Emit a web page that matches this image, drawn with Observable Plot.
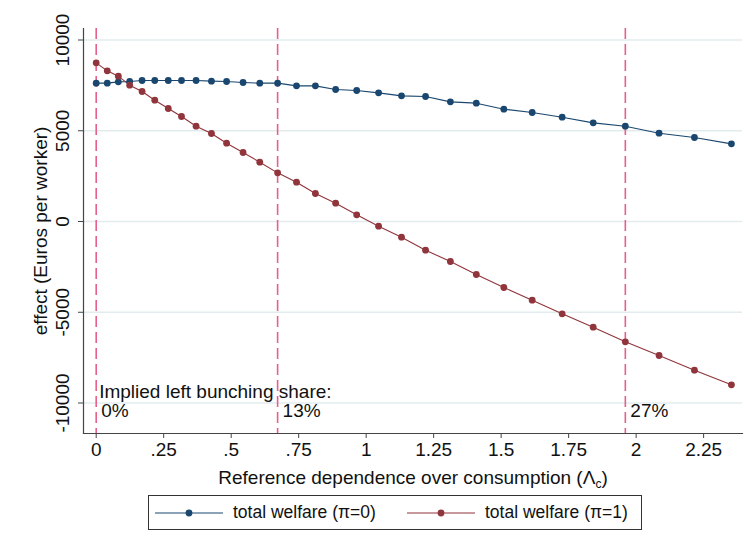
<!DOCTYPE html>
<html>
<head>
<meta charset="utf-8">
<script src="https://cdn.jsdelivr.net/npm/d3@7"></script>
<script src="https://cdn.jsdelivr.net/npm/@observablehq/plot@0.6"></script>
<style>
  body { margin: 0; background: #fff; font-family: "Liberation Sans", Arial, sans-serif; }
  #chart { width: 745px; }
  .legend { position: absolute; left: 148px; top: 495px; width: 494px; height: 35px; border: 1px solid #333; box-sizing: border-box; font-size: 17.5px; color: #111; }
  .legend .item { position: absolute; top: 0; height: 33px; display: flex; align-items: center; }
  .legend svg { margin-right: 10px; }
</style>
</head>
<body>
<div id="chart"></div>
<div class="legend" id="legend"></div>
<script>
// Reference dependence over consumption (x)
const lambdaC = [0, 0.041, 0.082, 0.124, 0.170, 0.217, 0.267, 0.316, 0.370, 0.427, 0.483, 0.544, 0.606, 0.672, 0.742, 0.812, 0.887, 0.965, 1.046, 1.131, 1.220, 1.312, 1.408, 1.510, 1.615, 1.726, 1.841, 1.960, 2.085, 2.216, 2.353];
// total welfare (pi=0)
const welfarePi0 = [7622, 7622, 7695, 7713, 7769, 7769, 7769, 7769, 7769, 7732, 7713, 7658, 7622, 7622, 7475, 7475, 7273, 7218, 7089, 6924, 6887, 6593, 6520, 6189, 6006, 5748, 5436, 5252, 4867, 4628, 4279];
// total welfare (pi=1)
const welfarePi1 = [8742, 8301, 8007, 7511, 7163, 6685, 6226, 5785, 5252, 4848, 4316, 3802, 3269, 2681, 2167, 1543, 1010, 367, -257, -863, -1580, -2204, -2920, -3636, -4334, -5087, -5822, -6630, -7383, -8191, -8999];
const seriesNames = ["total welfare (\u03c0=0)", "total welfare (\u03c0=1)"];
const seriesColors = ["#1a476f", "#90353b"];

const bunchX = [0, 0.672, 1.960];
const bunchLabels = ["0%", "13%", "27%"];
const bunchHeader = "Implied left bunching share:";

const xTicks = [0, 0.25, 0.5, 0.75, 1, 1.25, 1.5, 1.75, 2, 2.25];
const xTickLabels = ["0", ".25", ".5", ".75", "1", "1.25", "1.5", "1.75", "2", "2.25"];
const yTicks = [-10000, -5000, 0, 5000, 10000];
const yTickLabels = ["-10000", "-5000", "0", "5000", "10000"];

const xTitleMain = "Reference dependence over consumption (\u039b";
const xTitleSub = "c";
const xTitleEnd = ")";
const yTitle = "effect (Euros per worker)";

const data = [];
lambdaC.forEach((x, i) => {
  data.push({x, y: welfarePi0[i], s: seriesNames[0]});
});
lambdaC.forEach((x, i) => {
  data.push({x, y: welfarePi1[i], s: seriesNames[1]});
});

const plot = Plot.plot({
  width: 745,
  height: 490,
  marginLeft: 83,
  marginRight: 3,
  marginTop: 28,
  marginBottom: 57,
  style: {fontSize: "19px", fontFamily: "'Liberation Sans', Arial, sans-serif", color: "#111", background: "#fff"},
  x: {domain: [-0.047, 2.394]},
  y: {domain: [-11680, 10634]},
  color: {domain: seriesNames, range: seriesColors},
  marks: [
    Plot.gridY(yTicks, {stroke: "#e2ecee", strokeOpacity: 1, strokeWidth: 1.3}),
    Plot.axisY({ticks: yTicks, tickFormat: (d) => yTickLabels[yTicks.indexOf(d)], tickSize: 5, tickPadding: 10, tickRotate: -90, fontSize: 19,
      label: yTitle, labelAnchor: "center", labelArrow: "none", labelOffset: 50, stroke: "#444"}),
    Plot.axisX({ticks: xTicks, tickFormat: (d) => xTickLabels[xTicks.indexOf(d)], tickSize: 5, tickPadding: 4, fontSize: 19,
      label: xTitleMain + xTitleSub + xTitleEnd, labelAnchor: "center", labelArrow: "none", labelOffset: 50, stroke: "#444"}),
    Plot.frame({anchor: "left", stroke: "#444", strokeWidth: 1.2}),
    Plot.frame({anchor: "bottom", stroke: "#444", strokeWidth: 1.2}),
    Plot.ruleX(bunchX, {stroke: "#e8608a", strokeWidth: 1.6, strokeDasharray: "11,5"}),
    Plot.line(data, {x: "x", y: "y", z: "s", stroke: "s", strokeWidth: 1.1}),
    Plot.dot(data, {x: "x", y: "y", fill: "s", r: 3.4}),
    Plot.text([bunchHeader], {x: bunchX[0], frameAnchor: "bottom", dy: -36, dx: 3, textAnchor: "start", lineAnchor: "bottom", fill: "#111", fontSize: 19}),
    Plot.text(bunchLabels, {x: (d, i) => bunchX[i], text: (d) => d, frameAnchor: "bottom", dy: -17, dx: 5, textAnchor: "start", lineAnchor: "bottom", fill: "#111", fontSize: 19})
  ]
});
document.getElementById("chart").appendChild(plot);

// subscript c in x-axis title
const xl = d3.select(plot).select('g[aria-label="x-axis label"] text');
if (!xl.empty()) {
  xl.text(null);
  xl.append("tspan").text(xTitleMain);
  xl.append("tspan").attr("font-size", 12).attr("dy", 4).text(xTitleSub);
  xl.append("tspan").attr("dy", -4).text(xTitleEnd);
}

// legend
const leg = d3.select("#legend");
const itemX = [6, 258];
seriesNames.forEach((name, i) => {
  const it = leg.append("div").attr("class", "item").style("left", itemX[i] + "px");
  const s = it.append("svg").attr("width", 68).attr("height", 12);
  s.append("line").attr("x1", 0).attr("x2", 68).attr("y1", 6).attr("y2", 6).attr("stroke", seriesColors[i]).attr("stroke-width", 1.1);
  s.append("circle").attr("cx", 34).attr("cy", 6).attr("r", 3.4).attr("fill", seriesColors[i]);
  it.append("span").text(name);
});
</script>
</body>
</html>
